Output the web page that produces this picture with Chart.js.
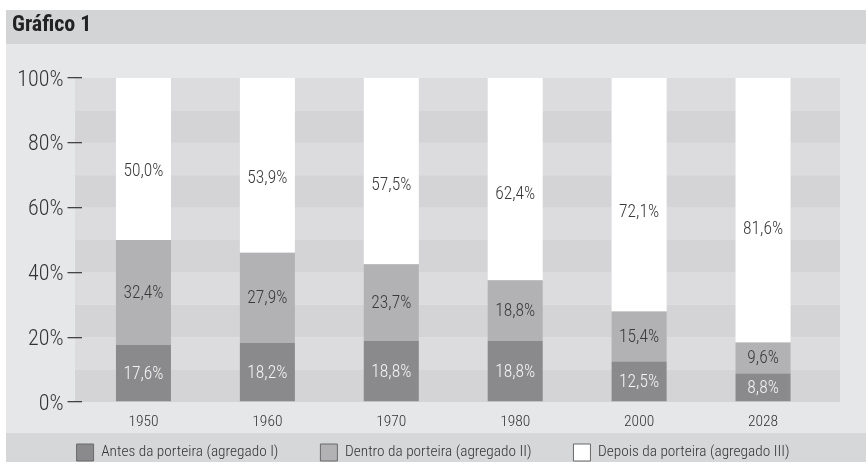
<!DOCTYPE html>
<html>
<head>
<meta charset="utf-8">
<script src="https://cdn.jsdelivr.net/npm/chart.js"></script>
<style>
  html, body { margin: 0; padding: 0; background: #fff; }
  #wrap { position: relative; width: 866px; height: 462px; }
</style>
</head>
<body>
<div id="wrap"><canvas id="chart"></canvas></div>
<script>
const years = ['1950', '1960', '1970', '1980', '2000', '2028'];
const seriesNames = [
  'Antes da porteira (agregado I)',
  'Dentro da porteira (agregado II)',
  'Depois da porteira (agregado III)'
];
const antes = [17.6, 18.2, 18.8, 18.8, 12.5, 8.8];
const dentro = [32.4, 27.9, 23.7, 18.8, 15.4, 9.6];
const depois = [50.0, 53.9, 57.5, 62.4, 72.1, 81.6];
const yTicks = [0, 20, 40, 60, 80, 100];

const FONT = '"Roboto Condensed", "Liberation Sans Narrow", Roboto, sans-serif';
const barColors = ['#8a8a8c', '#b2b2b4', '#ffffff'];
const labelColors = ['#f4f4f4', '#3a3a3a', '#3a3a3a'];
// where the value label sits inside each segment (0 = top, 1 = bottom)
const labelAnchor = [0.5, 0.5, 0.57];

function fmt(v) {
  return v.toFixed(1).replace('.', ',') + '%';
}

// page frame: title band, panel, striped plot, legend band
const frame = {
  id: 'frame',
  beforeDraw(chart) {
    const { ctx, chartArea, scales } = chart;
    ctx.save();
    ctx.fillStyle = '#ffffff';
    ctx.fillRect(0, 0, chart.width, chart.height);
    ctx.fillStyle = '#e6e7e9';
    ctx.fillRect(6, 10, chart.width - 6, chart.height - 10);
    ctx.fillStyle = '#d3d4d6';
    ctx.fillRect(6, 10, chart.width - 6, 34);
    ctx.fillStyle = '#d6d7d9';
    ctx.fillRect(6, 433, chart.width - 6, chart.height - 433);
    const left = chartArea.left - 6.5;
    const right = chartArea.right + 15;
    for (let i = 0; i < 10; i++) {
      const top = scales.y.getPixelForValue((i + 1) * 10);
      const bot = scales.y.getPixelForValue(i * 10);
      ctx.fillStyle = i % 2 === 0 ? '#d4d4d6' : '#dcdcde';
      ctx.fillRect(left, top, right - left, bot - top);
    }
    ctx.restore();
  },
  afterLayout(chart) {
    const lg = chart.legend;
    if (lg) {
      // legend boxes start at y=444 inside the bottom band
      lg.left = 0;
      lg.right = chart.width;
      lg.width = chart.width;
      lg.top = 444 - lg.options.labels.padding;
      lg.bottom = chart.height;
    }
  }
};

const barLabels = {
  id: 'barLabels',
  afterDatasetsDraw(chart) {
    const { ctx } = chart;
    ctx.save();
    ctx.font = '300 17.5px ' + FONT;
    ctx.textAlign = 'center';
    ctx.textBaseline = 'middle';
    chart.data.datasets.forEach((ds, i) => {
      const meta = chart.getDatasetMeta(i);
      meta.data.forEach((bar, j) => {
        const { x, y, base } = bar.getProps(['x', 'y', 'base'], true);
        ctx.fillStyle = labelColors[i];
        ctx.fillText(fmt(ds.data[j]), x, y + (base - y) * labelAnchor[i] + 1);
      });
    });
    ctx.restore();
  }
};

new Chart(document.getElementById('chart'), {
  type: 'bar',
  data: {
    labels: years,
    datasets: [antes, dentro, depois].map((values, i) => ({
      label: seriesNames[i],
      data: values,
      backgroundColor: barColors[i],
      borderWidth: 0,
      barPercentage: 0.444,
      categoryPercentage: 1
    }))
  },
  options: {
    responsive: true,
    maintainAspectRatio: false,
    animation: false,
    events: [],
    layout: { padding: { left: 12, right: 41, top: 0, bottom: 0 } },
    scales: {
      x: {
        stacked: true,
        grid: { display: false, drawTicks: false },
        border: { display: false },
        ticks: { color: '#333', font: { family: FONT, size: 15.5, weight: 300 }, padding: 11 },
        afterFit(scale) { scale.height = 31; }
      },
      y: {
        stacked: true,
        min: 0,
        max: 100,
        afterBuildTicks(scale) { scale.ticks = yTicks.map(v => ({ value: v })); },
        grid: { drawOnChartArea: false, drawTicks: true, tickLength: 14, color: '#444', lineWidth: 1.3 },
        border: { display: false },
        ticks: { color: '#333', font: { family: FONT, size: 22, weight: 300 }, padding: 4, labelOffset: 2, callback: v => v + '%' },
        afterFit(scale) { scale.width = 69.5; }
      }
    },
    plugins: {
      title: {
        display: true,
        text: 'Gráfico 1',
        align: 'start',
        color: '#222',
        font: { family: FONT, size: 22, weight: 'bold' },
        padding: { top: 11.8, bottom: 39.8 }
      },
      legend: {
        position: 'bottom',
        maxHeight: 29,
        labels: {
          color: '#333',
          font: { family: FONT, size: 15.3, weight: 300 },
          boxWidth: 17,
          boxHeight: 17,
          padding: 42,
          generateLabels(chart) {
            return Chart.defaults.plugins.legend.labels.generateLabels(chart).map(item => {
              item.lineWidth = 1;
              item.strokeStyle = '#6a6a6a';
              return item;
            });
          }
        }
      },
      tooltip: { enabled: false }
    }
  },
  plugins: [frame, barLabels]
});
</script>
</body>
</html>
